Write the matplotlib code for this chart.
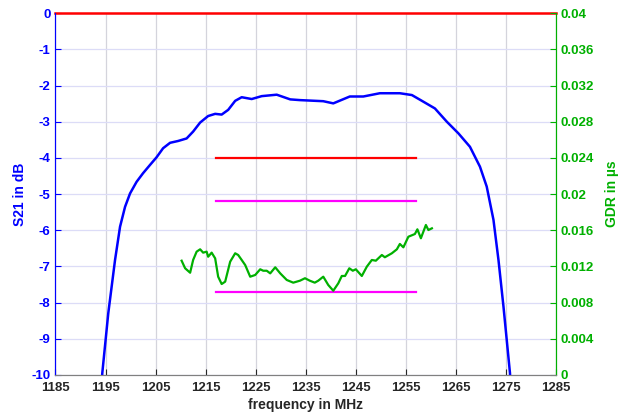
import matplotlib
matplotlib.use("Agg")
import matplotlib.pyplot as plt

# S21 (blue) curve
s21_freq = [1193.9, 1194.35, 1195.55, 1196.9, 1197.9, 1198.9, 1199.9, 1201.2, 1202.5, 1203.9,
            1205.2, 1206.5, 1207.9, 1209.5, 1211.2, 1212.5, 1213.9, 1215.5, 1216.9, 1218.2,
            1219.5, 1220.9, 1222.2, 1224.2, 1226.2, 1229.2, 1231.9, 1233.85, 1238.5, 1240.5,
            1243.8, 1246.5, 1249.8, 1253.8, 1256.2, 1258.2, 1260.8, 1263.2, 1265.5, 1267.8,
            1269.8, 1271.15, 1272.5, 1273.5, 1274.5, 1275.8, 1276.1]
s21_db = [-11.0, -9.95, -8.29, -6.82, -5.90, -5.35, -4.98, -4.66, -4.42, -4.19,
          -3.98, -3.73, -3.58, -3.53, -3.46, -3.27, -3.02, -2.84, -2.78, -2.80,
          -2.67, -2.42, -2.32, -2.37, -2.29, -2.25, -2.38, -2.40, -2.43, -2.49,
          -2.30, -2.30, -2.21, -2.21, -2.26, -2.42, -2.63, -3.00, -3.32, -3.69,
          -4.24, -4.79, -5.71, -6.82, -8.11, -9.95, -11.0]

# GDR (green) curve
gdr_freq = [1210.2, 1210.9, 1211.9, 1212.5, 1213.2, 1213.9, 1214.5, 1215.2, 1215.5, 1216.2,
            1216.9, 1217.5, 1218.2, 1218.9, 1219.9, 1220.9, 1221.5, 1222.2, 1222.9, 1223.9,
            1224.9, 1225.9, 1226.5, 1227.2, 1227.9, 1228.9, 1229.9, 1231.2, 1232.5, 1233.85,
            1234.85, 1235.8, 1236.8, 1237.5, 1238.5, 1239.5, 1240.5, 1241.5, 1242.2, 1242.85,
            1243.7, 1244.4, 1245.0, 1246.2, 1247.2, 1248.2, 1249.0, 1250.2, 1250.8, 1252.2,
            1253.2, 1253.8, 1254.5, 1255.5, 1256.8, 1257.3, 1258.0, 1259.0, 1259.5, 1260.2]
gdr_us = [0.01264, 0.0118, 0.01131, 0.01272, 0.01364, 0.0139, 0.01353, 0.01364, 0.01308, 0.01353,
          0.0129, 0.01087, 0.01006, 0.01032, 0.01253, 0.01346, 0.01327, 0.01272, 0.01216, 0.01087,
          0.01106, 0.01169, 0.01153, 0.01153, 0.01124, 0.01191, 0.01124, 0.01051, 0.01021, 0.01043,
          0.0107, 0.01043, 0.01021, 0.01043, 0.01087, 0.00995, 0.00932, 0.01014, 0.01095, 0.01095,
          0.0118, 0.01153, 0.01169, 0.01095, 0.01198, 0.01272, 0.01264, 0.01327, 0.01302, 0.01346,
          0.0139, 0.01449, 0.01412, 0.01529, 0.01559, 0.01611, 0.01512, 0.01659, 0.01603, 0.01622]

# spec lines
s21_top_freq = [1185, 1285]
s21_top_db = [0, 0]
s21_spec_freq = [1217, 1257]
s21_spec_db = [-4, -4]
gdr_spec_freq = [1217, 1257]
gdr_spec_hi = [0.0192, 0.0192]
gdr_spec_lo = [0.0092, 0.0092]

xticks = list(range(1185, 1286, 10))
yticks_left = list(range(-10, 1))
yticks_right = [0, 0.004, 0.008, 0.012, 0.016, 0.02, 0.024, 0.028, 0.032, 0.036, 0.04]
yticklabels_right = ['0', '0.004', '0.008', '0.012', '0.016', '0.02', '0.024', '0.028',
                     '0.032', '0.036', '0.04']

plt.rcParams['font.family'] = ['Liberation Sans', 'DejaVu Sans']
plt.rcParams['font.weight'] = 'bold'
plt.rcParams['axes.unicode_minus'] = False

BLUE = '#0000ff'
GREEN = '#00b000'
GREY = '#262626'

fig = plt.figure(figsize=(6.29, 4.16), dpi=100)
ax = fig.add_axes([0.0882, 0.0986, 0.7958, 0.8694])
ax2 = ax.twinx()

ax.set_xlim(1185, 1285)
ax.set_ylim(-10, 0)
ax2.set_ylim(0, 0.04)

# grid
for xt in xticks:
    ax.axvline(xt, color='#d4d4dc', lw=0.9, zorder=0)
for yt in yticks_left:
    ax.axhline(yt, color='#dcdcf7', lw=0.9, zorder=0)

ax.plot(s21_freq, s21_db, color=BLUE, lw=1.8, zorder=3)
ax.plot(s21_top_freq, s21_top_db, color='#ff0000', lw=1.8, zorder=4, clip_on=False)
ax.plot(s21_spec_freq, s21_spec_db, color='#ff0000', lw=1.6, zorder=3)

ax2.plot(gdr_spec_freq, gdr_spec_hi, color='#ff00ff', lw=1.6)
ax2.plot(gdr_spec_freq, gdr_spec_lo, color='#ff00ff', lw=1.6)
ax2.plot(gdr_freq, gdr_us, color=GREEN, lw=1.6)

ax.set_xticks(xticks)
ax.set_yticks(yticks_left)
ax2.set_yticks(yticks_right)
ax2.set_yticklabels(yticklabels_right)

ax.tick_params(axis='x', direction='in', colors=GREY, labelsize=9.5, length=4, pad=5)
ax.tick_params(axis='y', direction='in', colors=BLUE, labelsize=9.5, length=4)
ax2.tick_params(axis='y', direction='in', colors=GREEN, labelsize=9.5, length=4)
for lbl in ax.get_xticklabels() + ax.get_yticklabels() + ax2.get_yticklabels():
    lbl.set_fontweight('bold')

for a in (ax, ax2):
    a.spines['top'].set_visible(False)
    a.spines['bottom'].set_color('#808080')
    a.spines['left'].set_color(BLUE)
    a.spines['right'].set_color(GREEN)

ax.set_xlabel('frequency in MHz', color=GREY, fontsize=10, fontweight='bold', labelpad=3)
ax.set_ylabel('S21 in dB', color=BLUE, fontsize=10, fontweight='bold', labelpad=3)
ax2.set_ylabel('GDR in µs', color=GREEN, fontsize=10, fontweight='bold', labelpad=8)

fig.savefig('out.png', dpi=100)
